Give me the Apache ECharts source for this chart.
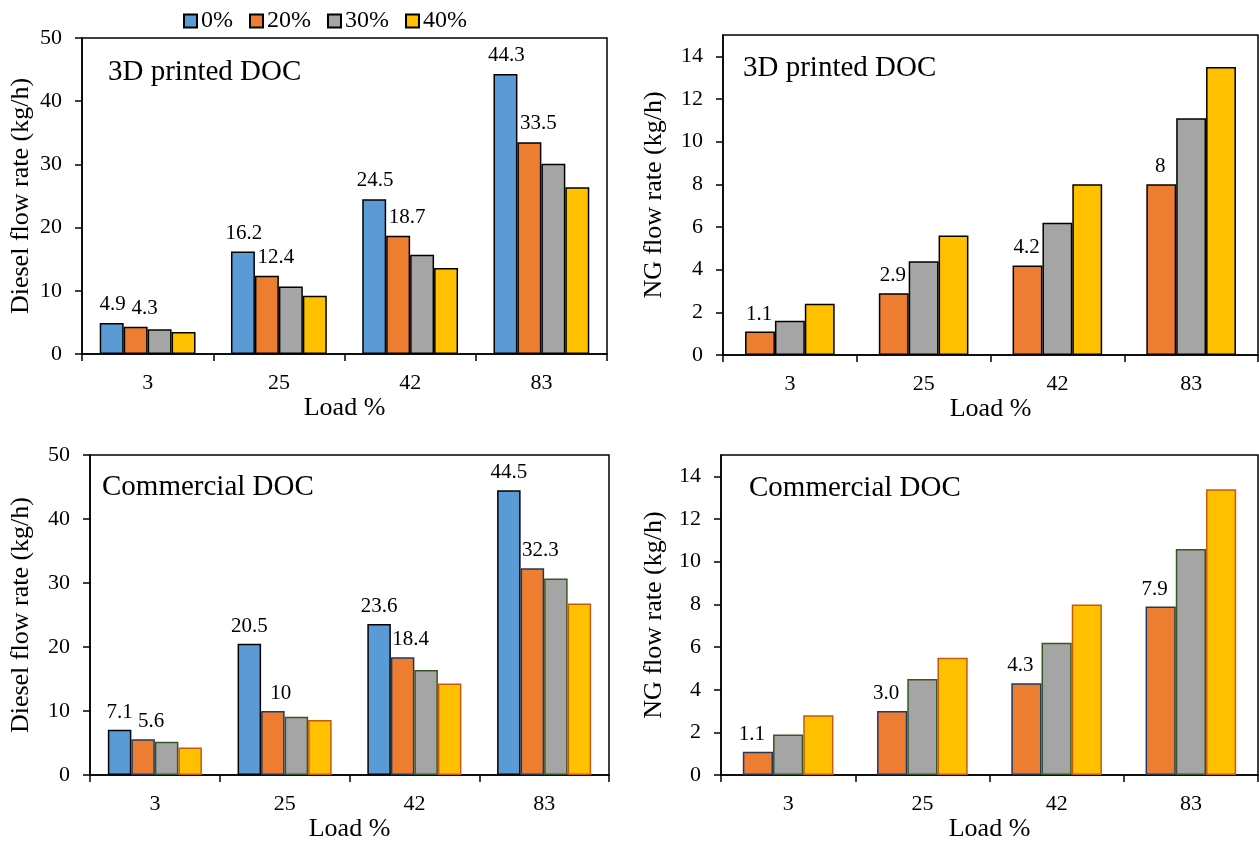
<!DOCTYPE html>
<html>
<head>
<meta charset="utf-8">
<script src="https://cdn.jsdelivr.net/npm/echarts@6/dist/echarts.min.js"></script>
<style>
  html, body { margin: 0; padding: 0; background: #fff; }
  #chartBox { width: 1259px; height: 843px; }
</style>
</head>
<body>
<div id="chartBox"></div>
<script>
// categories (engine load %)
const loads = ['3', '25', '42', '83']
const seriesNames = ['0%', '20%', '30%', '40%']

// 3D printed DOC - diesel flow rate (kg/h)
const printedDiesel0 = [4.9, 16.2, 24.5, 44.3]
const printedDiesel20 = [4.3, 12.4, 18.7, 33.5]
const printedDiesel30 = [3.9, 10.7, 15.7, 30.1]
const printedDiesel40 = [3.5, 9.2, 13.6, 26.4]

// 3D printed DOC - NG flow rate (kg/h)
const printedNG20 = [1.1, 2.9, 4.2, 8]
const printedNG30 = [1.6, 4.4, 6.2, 11.1]
const printedNG40 = [2.4, 5.6, 8.0, 13.5]

// Commercial DOC - diesel flow rate (kg/h)
const commDiesel0 = [7.1, 20.5, 23.6, 44.5]
const commDiesel20 = [5.6, 10, 18.4, 32.3]
const commDiesel30 = [5.2, 9.1, 16.4, 30.7]
const commDiesel40 = [4.3, 8.6, 14.3, 26.8]

// Commercial DOC - NG flow rate (kg/h)
const commNG20 = [1.1, 3.0, 4.3, 7.9]
const commNG30 = [1.9, 4.5, 6.2, 10.6]
const commNG40 = [2.8, 5.5, 8.0, 13.4]

// tick labels
const dieselTicks = [0, 10, 20, 30, 40, 50]
const ngTicks = [0, 2, 4, 6, 8, 10, 12, 14]

const FONT = "'Liberation Serif', 'Times New Roman', serif"
const colors = { '0%': '#5B9BD5', '20%': '#ED7D31', '30%': '#A5A5A5', '40%': '#FFC000' }
const commBorders = { '0%': '#000000', '20%': '#1F3864', '30%': '#385723', '40%': '#C55A11' }

const grids = [
  { left: 82, top: 38, width: 525, height: 316 },
  { left: 723, top: 35, width: 535, height: 320 },
  { left: 90, top: 455, width: 519, height: 330 },
  { left: 721, top: 455, width: 537, height: 331 }
]

function makeX(idx, nameGap) {
  return {
    type: 'category',
    gridIndex: idx,
    data: loads,
    name: 'Load %',
    nameLocation: 'middle',
    nameGap: nameGap,
    nameTextStyle: { fontFamily: FONT, fontSize: 26, color: '#000' },
    axisLine: { lineStyle: { color: '#000', width: 1.5 } },
    axisTick: { show: true, length: 7, lineStyle: { color: '#000', width: 1.5 } },
    axisLabel: { fontFamily: FONT, fontSize: 22, color: '#000', margin: 18 }
  }
}

function makeY(idx, ticks, max, name, nameGap) {
  return {
    type: 'value',
    gridIndex: idx,
    min: 0,
    max: max,
    interval: ticks[1] - ticks[0],
    name: name,
    nameLocation: 'middle',
    nameGap: nameGap,
    nameTextStyle: { fontFamily: FONT, fontSize: 26, color: '#000' },
    axisLine: { show: true, lineStyle: { color: '#000', width: 1.5 } },
    axisTick: { show: true, length: 7, customValues: ticks, lineStyle: { color: '#000', width: 1.5 } },
    axisLabel: { fontFamily: FONT, fontSize: 22, color: '#000', margin: 20, customValues: ticks },
    splitLine: { show: false }
  }
}

function makeBar(idx, name, data, opts) {
  const s = {
    name: name,
    type: 'bar',
    xAxisIndex: idx,
    yAxisIndex: idx,
    data: data,
    barGap: '0%',
    barCategoryGap: opts.gap,
    itemStyle: {
      color: colors[name],
      borderColor: opts.commercial ? commBorders[name] : '#000',
      borderWidth: 1.5
    },
    label: { show: false }
  }
  if (opts.label) {
    s.label = {
      show: true,
      position: 'top',
      distance: 6,
      offset: opts.label,
      fontFamily: FONT,
      fontSize: 21,
      color: '#000',
      formatter: opts.fixed ? (p) => p.value.toFixed(1) : (p) => String(p.value)
    }
  }
  return s
}

const series = [
  makeBar(0, '0%', printedDiesel0, { gap: '27%', label: [1, -2] }),
  makeBar(0, '20%', printedDiesel20, { gap: '27%', label: [9, -2] }),
  makeBar(0, '30%', printedDiesel30, { gap: '27%' }),
  makeBar(0, '40%', printedDiesel40, { gap: '27%' }),

  makeBar(1, '20%', printedNG20, { gap: '33%', label: [-1, -1] }),
  makeBar(1, '30%', printedNG30, { gap: '33%' }),
  makeBar(1, '40%', printedNG40, { gap: '33%' }),

  makeBar(2, '0%', commDiesel0, { gap: '27.5%', label: [0, -1] }),
  makeBar(2, '20%', commDiesel20, { gap: '27.5%', label: [8, -1], commercial: true }),
  makeBar(2, '30%', commDiesel30, { gap: '27.5%', commercial: true }),
  makeBar(2, '40%', commDiesel40, { gap: '27.5%', commercial: true }),

  makeBar(3, '20%', commNG20, { gap: '32.5%', label: [-6, -1], commercial: true, fixed: true }),
  makeBar(3, '30%', commNG30, { gap: '32.5%', commercial: true }),
  makeBar(3, '40%', commNG40, { gap: '32.5%', commercial: true })
]

function panelTitle(text, left, top) {
  return {
    text: text,
    left: left,
    top: top,
    padding: 0,
    textStyle: { fontFamily: FONT, fontSize: 29, fontWeight: 'normal', color: '#000' }
  }
}

const chart = echarts.init(document.getElementById('chartBox'), null, { renderer: 'canvas' })
chart.setOption({
  animation: false,
  backgroundColor: '#fff',
  title: [
    panelTitle('3D printed DOC', 108, 58),
    panelTitle('3D printed DOC', 743, 54),
    panelTitle('Commercial DOC', 102, 473),
    panelTitle('Commercial DOC', 749, 474)
  ],
  legend: {
    data: seriesNames,
    left: 183,
    top: 9,
    icon: 'rect',
    itemWidth: 13,
    itemHeight: 13,
    itemGap: 16,
    padding: 0,
    textStyle: { fontFamily: FONT, fontSize: 24, color: '#000', padding: [0, 0, 0, -1] },
    selectedMode: false
  },
  grid: grids.map((g) => Object.assign({ show: true, borderColor: '#000', borderWidth: 1.5, containLabel: false }, g)),
  xAxis: [makeX(0, 38), makeX(1, 37), makeX(2, 33), makeX(3, 33)],
  yAxis: [
    makeY(0, dieselTicks, 50, 'Diesel flow rate (kg/h)', 48),
    makeY(1, ngTicks, 15, 'NG flow rate (kg/h)', 56),
    makeY(2, dieselTicks, 50, 'Diesel flow rate (kg/h)', 56),
    makeY(3, ngTicks, 15, 'NG flow rate (kg/h)', 54)
  ],
  series: series
})
window.addEventListener('resize', () => {
  chart.resize()
})
</script>
</body>
</html>
